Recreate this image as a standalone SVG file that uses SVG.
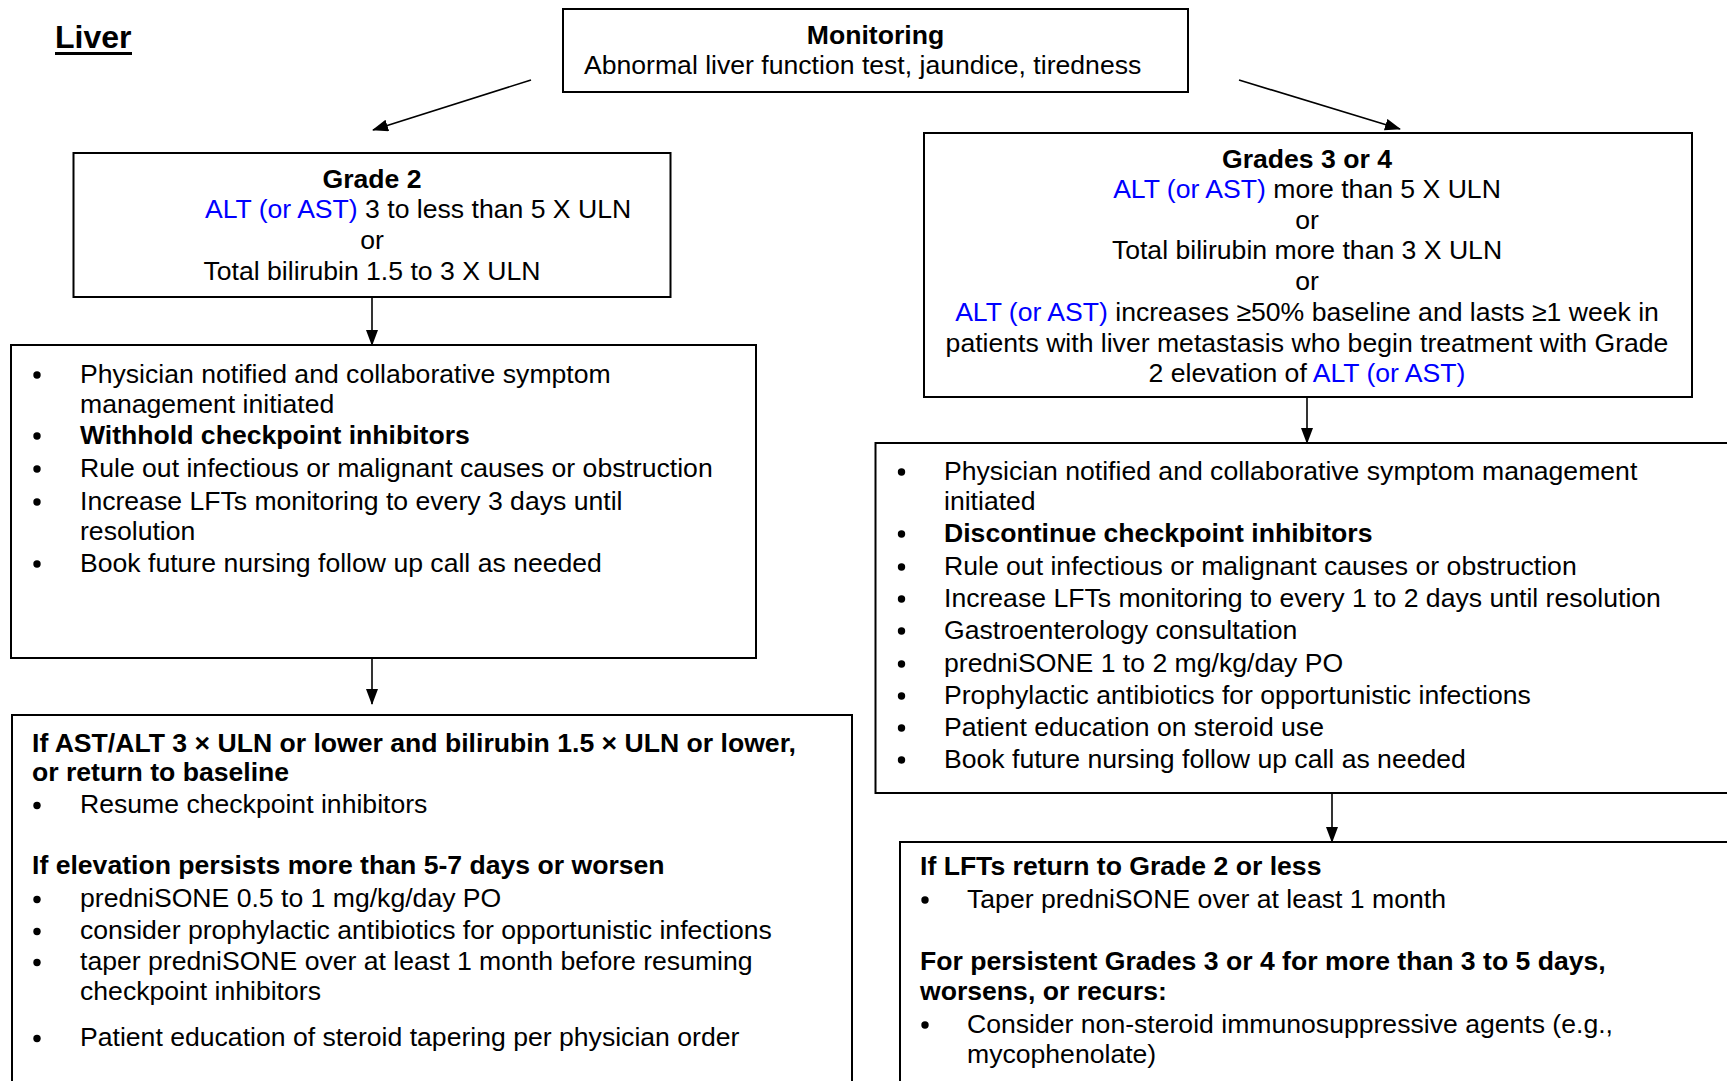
<svg xmlns="http://www.w3.org/2000/svg" width="1727" height="1081" viewBox="0 0 1727 1081">
  <style>
    text { font-family: "Liberation Sans", Arial, sans-serif; font-size: 26.6px; fill: #000; }
    .b { font-weight: bold; }
    .c { text-anchor: middle; }
    .blue { fill: #0000ff; }
    .box { fill: #fff; stroke: #000; stroke-width: 2; }
    .dot { fill: #000; }
    .conn { stroke: #000; stroke-width: 1.6; fill: none; marker-end: url(#arrow); }
  </style>
  <defs>
    <marker id="arrow" markerUnits="userSpaceOnUse" markerWidth="16" markerHeight="12" refX="15" refY="6" orient="auto">
      <path d="M0,0 L16,6 L0,12 Z" fill="#000"/>
    </marker>
  </defs>
  <rect width="1727" height="1081" fill="#fff"/>

  <!-- page title -->
  <g id="title">
    <text x="55" y="47.5" class="b" style="font-size:32px">Liver</text>
    <rect x="55" y="52" width="77" height="3" fill="#000"/>
  </g>

  <g id="connectors">
    <line class="conn" x1="531" y1="80" x2="373" y2="130"/>
    <line class="conn" x1="1239" y1="80" x2="1400" y2="129"/>
    <line class="conn" x1="372" y1="297" x2="372" y2="345"/>
    <line class="conn" x1="372" y1="658" x2="372" y2="704"/>
    <line class="conn" x1="1307" y1="397" x2="1307" y2="443"/>
    <line class="conn" x1="1332" y1="793" x2="1332" y2="842"/>
  </g>

  <g id="monitoring">
    <rect class="box" x="563" y="9" width="625" height="83"/>
    <text x="875.5" y="43.5" class="b c">Monitoring</text>
    <text x="584" y="74">Abnormal liver function test, jaundice, tiredness</text>
  </g>

  <g id="grade2">
    <rect class="box" x="73.5" y="153" width="597" height="144"/>
    <text x="372" y="187.5" class="b c">Grade 2</text>
    <text x="205" y="218"><tspan class="blue">ALT (or AST)</tspan> 3 to less than 5 X ULN</text>
    <text x="372" y="249" class="c">or</text>
    <text x="372" y="279.5" class="c">Total bilirubin 1.5 to 3 X ULN</text>
  </g>

  <g id="grade34">
    <rect class="box" x="924" y="133" width="768" height="264"/>
    <text x="1307" y="168" class="b c">Grades 3 or 4</text>
    <text x="1307" y="198" class="c"><tspan class="blue">ALT (or AST)</tspan> more than 5 X ULN</text>
    <text x="1307" y="228.5" class="c">or</text>
    <text x="1307" y="259" class="c">Total bilirubin more than 3 X ULN</text>
    <text x="1307" y="290" class="c">or</text>
    <text x="1307" y="321" class="c"><tspan class="blue">ALT (or AST)</tspan> increases ≥50% baseline and lasts ≥1 week in</text>
    <text x="1307" y="351.5" class="c">patients with liver metastasis who begin treatment with Grade</text>
    <text x="1307" y="382" class="c">2 elevation of <tspan class="blue">ALT (or AST)</tspan></text>
  </g>

  <g id="grade2-actions">
    <rect class="box" x="11" y="345" width="745" height="313"/>
    <circle class="dot" cx="37" cy="375" r="3.7"/>
    <text x="80" y="383">Physician notified and collaborative symptom</text>
    <text x="80" y="413">management initiated</text>
    <circle class="dot" cx="37" cy="436" r="3.7"/>
    <text x="80" y="444" class="b">Withhold checkpoint inhibitors</text>
    <circle class="dot" cx="37" cy="469" r="3.7"/>
    <text x="80" y="477">Rule out infectious or malignant causes or obstruction</text>
    <circle class="dot" cx="37" cy="502" r="3.7"/>
    <text x="80" y="510">Increase LFTs monitoring to every 3 days until</text>
    <text x="80" y="540">resolution</text>
    <circle class="dot" cx="37" cy="564" r="3.7"/>
    <text x="80" y="572">Book future nursing follow up call as needed</text>
  </g>

  <g id="grade34-actions">
    <rect class="box" x="875.5" y="443" width="900" height="350"/>
    <circle class="dot" cx="901.5" cy="472" r="3.7"/>
    <text x="944" y="480">Physician notified and collaborative symptom management</text>
    <text x="944" y="510">initiated</text>
    <circle class="dot" cx="901.5" cy="534" r="3.7"/>
    <text x="944" y="542" class="b">Discontinue checkpoint inhibitors</text>
    <circle class="dot" cx="901.5" cy="567" r="3.7"/>
    <text x="944" y="575">Rule out infectious or malignant causes or obstruction</text>
    <circle class="dot" cx="901.5" cy="599" r="3.7"/>
    <text x="944" y="607">Increase LFTs monitoring to every 1 to 2 days until resolution</text>
    <circle class="dot" cx="901.5" cy="631" r="3.7"/>
    <text x="944" y="639">Gastroenterology consultation</text>
    <circle class="dot" cx="901.5" cy="664" r="3.7"/>
    <text x="944" y="672">predniSONE 1 to 2 mg/kg/day PO</text>
    <circle class="dot" cx="901.5" cy="696" r="3.7"/>
    <text x="944" y="704">Prophylactic antibiotics for opportunistic infections</text>
    <circle class="dot" cx="901.5" cy="728" r="3.7"/>
    <text x="944" y="736">Patient education on steroid use</text>
    <circle class="dot" cx="901.5" cy="760" r="3.7"/>
    <text x="944" y="768">Book future nursing follow up call as needed</text>
  </g>

  <g id="grade2-followup">
    <rect class="box" x="12" y="715" width="840" height="400"/>
    <text x="32" y="752" class="b">If AST/ALT 3 × ULN or lower and bilirubin 1.5 × ULN or lower,</text>
    <text x="32" y="781" class="b">or return to baseline</text>
    <circle class="dot" cx="37" cy="805.5" r="3.7"/>
    <text x="80" y="813">Resume checkpoint inhibitors</text>
    <text x="32" y="874" class="b">If elevation persists more than 5-7 days or worsen</text>
    <circle class="dot" cx="37" cy="899.5" r="3.7"/>
    <text x="80" y="907">predniSONE 0.5 to 1 mg/kg/day PO</text>
    <circle class="dot" cx="37" cy="931.5" r="3.7"/>
    <text x="80" y="939">consider prophylactic antibiotics for opportunistic infections</text>
    <circle class="dot" cx="37" cy="962.5" r="3.7"/>
    <text x="80" y="970">taper predniSONE over at least 1 month before resuming</text>
    <text x="80" y="1000">checkpoint inhibitors</text>
    <circle class="dot" cx="37" cy="1038.5" r="3.7"/>
    <text x="80" y="1046">Patient education of steroid tapering per physician order</text>
  </g>

  <g id="grade34-followup">
    <rect class="box" x="900" y="842" width="900" height="300"/>
    <text x="920" y="875" class="b">If LFTs return to Grade 2 or less</text>
    <circle class="dot" cx="925" cy="900" r="3.7"/>
    <text x="967" y="908">Taper predniSONE over at least 1 month</text>
    <text x="920" y="970" class="b">For persistent Grades 3 or 4 for more than 3 to 5 days,</text>
    <text x="920" y="1000" class="b">worsens, or recurs:</text>
    <circle class="dot" cx="925" cy="1025" r="3.7"/>
    <text x="967" y="1033">Consider non-steroid immunosuppressive agents (e.g.,</text>
    <text x="967" y="1063">mycophenolate)</text>
  </g>
</svg>
